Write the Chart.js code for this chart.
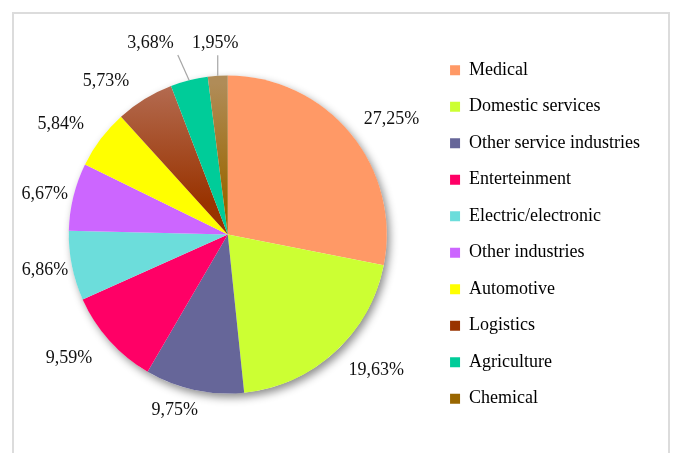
<!DOCTYPE html>
<html>
<head>
<meta charset="utf-8">
<script src="https://cdn.jsdelivr.net/npm/chart.js@4.4.1/dist/chart.umd.min.js"></script>
<style>
  html, body { margin: 0; padding: 0; background: #ffffff; }
  #wrap { position: relative; width: 673px; height: 453px; overflow: hidden; }
  #frame {
    position: absolute; left: 12px; top: 12px; width: 658px; height: 470px;
    border: 2px solid #dcdcdc; box-sizing: border-box; pointer-events: none;
  }
  canvas { position: absolute; left: 0; top: 0; }
</style>
</head>
<body>
<div id="wrap">
  <canvas id="chart" width="673" height="453"></canvas>
  <div id="frame"></div>
</div>
<script>
// Share of applications by sector (%)
const sectors = [
  'Medical', 'Domestic services', 'Other service industries', 'Enterteinment',
  'Electric/electronic', 'Other industries', 'Automotive', 'Logistics',
  'Agriculture', 'Chemical'
];
const shares = [27.25, 19.63, 9.75, 9.59, 6.86, 6.67, 5.84, 5.73, 3.68, 1.95];

const sliceColors = [
  '#FF9966', '#CCFF33', '#666699', '#FF0066', '#6CDDDB',
  '#CC66FF', '#FFFF00', 'gradient:#B46C52:#993300', '#00CC99', 'gradient:#B08C58:#996600'
];

// Label placement tweaks around each slice's mid-angle (degrees, radius multiple)
const labelAngleNudge = [4.2, -5.2, 4.6, 4.0, 0.3, -1.2, -3.5, -6.9, -7.9, -0.1];
const labelRadiusScale = [1.26, 1.265, 1.155, 1.266, 1.172, 1.179, 1.26, 1.232, 1.298, 1.206];
const labelLeader = [false, false, false, false, false, false, false, false, true, true];

const FONT = "'Liberation Serif', 'Times New Roman', serif";
const PIE_RADIUS = 159;

function fmtPct(v) {
  return v.toFixed(2).replace('.', ',') + '%';
}

// Solid fill, or a vertical shade for the two brown slices
function sliceFill(ctx) {
  const spec = sliceColors[ctx.dataIndex];
  if (!spec.startsWith('gradient:')) return spec;
  const [, top, bottom] = spec.split(':');
  const area = ctx.chart.chartArea;
  if (!area) return bottom;
  const cy = (area.top + area.bottom) / 2;
  const g = ctx.chart.ctx.createLinearGradient(0, cy - PIE_RADIUS * 0.95, 0, cy - PIE_RADIUS * 0.2);
  g.addColorStop(0, top);
  g.addColorStop(1, bottom);
  return g;
}

// Soft drop shadow under the whole pie
const pieShadow = {
  id: 'pieShadow',
  beforeDatasetsDraw(chart) {
    const arc = chart.getDatasetMeta(0).data[0];
    if (!arc) return;
    const c = chart.ctx;
    c.save();
    c.shadowColor = 'rgba(0,0,0,0.45)';
    c.shadowBlur = 9;
    c.shadowOffsetX = 3;
    c.shadowOffsetY = 4;
    c.fillStyle = '#ffffff';
    c.beginPath();
    c.arc(arc.x, arc.y, arc.outerRadius, 0, Math.PI * 2);
    c.fill();
    c.restore();
  }
};

// Percentage labels outside the slices, with leader lines where needed
const outsideLabels = {
  id: 'outsideLabels',
  afterDatasetsDraw(chart) {
    const c = chart.ctx;
    const meta = chart.getDatasetMeta(0);
    const data = chart.data.datasets[0].data;
    c.save();
    c.font = '18px ' + FONT;
    c.fillStyle = '#111111';
    c.textAlign = 'center';
    c.textBaseline = 'middle';
    meta.data.forEach((arc, i) => {
      const { x, y, startAngle, endAngle, outerRadius } = arc.getProps(['x', 'y', 'startAngle', 'endAngle', 'outerRadius'], true);
      const mid = (startAngle + endAngle) / 2;
      const a = mid + labelAngleNudge[i] * Math.PI / 180;
      const R = outerRadius * labelRadiusScale[i];
      const lx = x + Math.cos(a) * R;
      const ly = y + Math.sin(a) * R;
      const text = fmtPct(data[i]);
      if (labelLeader[i]) {
        const w = c.measureText(text).width;
        const h = 16;
        const px = x + Math.cos(mid) * outerRadius;
        const py = y + Math.sin(mid) * outerRadius;
        const bx0 = lx - w / 2 - 4, bx1 = lx + w / 2 + 4;
        const by0 = ly - h / 2 - 4, by1 = ly + h / 2 + 4;
        const ex = Math.min(Math.max(px, bx0), bx1);
        const ey = Math.min(Math.max(py, by0), by1);
        c.strokeStyle = '#a6a6a6';
        c.lineWidth = 1.2;
        c.beginPath();
        c.moveTo(px, py);
        c.lineTo(ex, ey);
        c.stroke();
      }
      c.fillText(text, lx, ly);
    });
    c.restore();
  }
};

function build() {
  new Chart(document.getElementById('chart'), {
    type: 'pie',
    data: {
      labels: sectors,
      datasets: [{
        data: shares,
        backgroundColor: sliceFill,
        borderWidth: 0,
        hoverOffset: 0
      }]
    },
    options: {
      responsive: false,
      animation: false,
      radius: PIE_RADIUS,
      layout: { padding: { left: 24, right: 23, top: 16, bottom: 0 } },
      plugins: {
        legend: {
          position: 'right',
          align: 'center',
          labels: {
            boxWidth: 10,
            boxHeight: 10,
            padding: 18.5,
            color: '#111111',
            font: { family: FONT, size: 18 },
            generateLabels() {
              return sectors.map((s, i) => {
                const spec = sliceColors[i];
                const col = spec.startsWith('gradient:') ? spec.split(':')[2] : spec;
                return { text: s, fillStyle: col, strokeStyle: col, lineWidth: 0, index: i, hidden: false };
              });
            }
          }
        },
        tooltip: { enabled: false }
      }
    },
    plugins: [pieShadow, outsideLabels]
  });
}

if (document.fonts && document.fonts.load) {
  document.fonts.load("18px 'Liberation Serif'").then(build, build);
} else {
  build();
}
</script>
</body>
</html>
